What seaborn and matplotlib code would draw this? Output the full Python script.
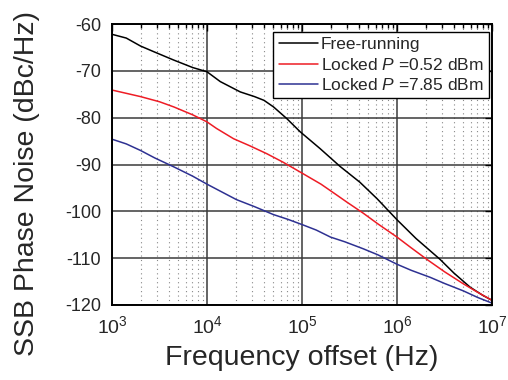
import numpy as np
import pandas as pd
import matplotlib
matplotlib.use('Agg')
import matplotlib.pyplot as plt
import seaborn as sns
from matplotlib.ticker import LogLocator, FixedLocator, NullFormatter

# valores (log10 da frequência, dBc/Hz)
free_logf = [3.0, 3.15, 3.3, 3.45, 3.65, 3.85, 4.0, 4.14, 4.35, 4.5, 4.6, 4.70, 4.84,
             4.98, 5.19, 5.4, 5.61, 5.79, 6.0, 6.2, 6.45, 6.6, 6.77, 6.9, 7.0]
free_db = [-62.2, -63.0, -64.7, -66.0, -67.7, -69.3, -70.2, -72.3, -74.5, -75.5, -76.3,
           -77.7, -80.2, -83.0, -86.6, -90.4, -93.8, -97.3, -101.8, -105.8, -110.2,
           -113.2, -116.2, -117.9, -119.0]

red_logf = [3.0, 3.15, 3.3, 3.5, 3.65, 3.85, 4.0, 4.1, 4.28, 4.45, 4.63, 4.8, 4.98,
            5.2, 5.35, 5.47, 5.645, 5.8, 6.0, 6.15, 6.31, 6.5, 6.7, 6.85, 7.0]
red_db = [-74.1, -74.8, -75.5, -76.6, -77.7, -79.4, -80.9, -82.3, -84.5, -86.0, -87.7,
          -89.5, -91.6, -94.2, -96.3, -98.0, -100.4, -102.7, -105.5, -107.8, -110.2,
          -112.9, -115.5, -117.3, -119.0]

blue_logf = [3.0, 3.15, 3.3, 3.45, 3.65, 3.85, 4.0, 4.15, 4.31, 4.5, 4.7, 4.85, 5.01,
             5.15, 5.3, 5.45, 5.645, 5.8, 5.89, 6.0, 6.15, 6.35, 6.5, 6.7, 6.85, 7.0]
blue_db = [-84.6, -85.6, -87.0, -88.6, -90.5, -92.5, -94.2, -95.8, -97.5, -99.0, -100.7,
           -101.7, -102.9, -104.0, -105.5, -106.5, -108.0, -109.3, -110.2, -111.3,
           -112.6, -114.1, -115.4, -117.0, -118.4, -119.6]

labels = ['Free-running', r'Locked $\it{P}$ =0.52 dBm', r'Locked $\it{P}$ =7.85 dBm']
colors = ['black', '#ee1c25', '#2e3192']

y_ticks = [-60, -70, -80, -90, -100, -110, -120]
x_ticks = [1e3, 1e4, 1e5, 1e6, 1e7]
x_tick_labels = [r'$10^{3}$', r'$10^{4}$', r'$10^{5}$', r'$10^{6}$', r'$10^{7}$']


def main():
    sns.set_style('white')
    plt.rcParams['font.family'] = ['Liberation Sans', 'DejaVu Sans']
    plt.rcParams['mathtext.fontset'] = 'custom'
    plt.rcParams['mathtext.rm'] = 'Liberation Sans'
    plt.rcParams['mathtext.it'] = 'Liberation Sans:italic'
    plt.rcParams['axes.unicode_minus'] = False

    frames = []
    for lab, lf, db in [(labels[0], free_logf, free_db),
                        (labels[1], red_logf, red_db),
                        (labels[2], blue_logf, blue_db)]:
        frames.append(pd.DataFrame({'freq': 10 ** np.array(lf), 'noise': db, 'curve': lab}))
    df = pd.concat(frames, ignore_index=True)

    fig = plt.figure(figsize=(5.08, 3.8), dpi=100)
    ax = fig.add_axes([0.2205, 0.1974, 0.748, 0.7394])

    sns.lineplot(data=df, x='freq', y='noise', hue='curve', hue_order=labels,
                 palette=colors, linewidth=1.1, ax=ax, sort=False)

    ax.set_xscale('log')
    ax.set_xlim(1e3, 1e7)
    ax.set_ylim(-120, -60)

    ax.xaxis.set_major_locator(FixedLocator(x_ticks))
    ax.set_xticklabels(x_tick_labels)
    ax.xaxis.set_minor_locator(LogLocator(base=10, subs=np.arange(2, 10)))
    ax.xaxis.set_minor_formatter(NullFormatter())
    ax.set_yticks(y_ticks)

    ax.grid(True, which='major', color='#3a3a3a', linewidth=1.1, linestyle='-')
    ax.grid(True, which='minor', axis='x', color='#888888', linewidth=0.8, linestyle=(0, (1, 3)))
    ax.set_axisbelow(True)

    ax.tick_params(which='both', direction='in', top=True, right=True,
                   width=1.0, color='black')
    ax.tick_params(axis='y', labelsize=13, pad=8)
    ax.tick_params(axis='x', labelsize=14, pad=7)
    ax.tick_params(which='major', length=5)
    ax.tick_params(which='minor', length=3)
    for s in ax.spines.values():
        s.set_color('black')
        s.set_linewidth(1.4)

    ax.set_xlabel('Frequency offset (Hz)', fontsize=20.5, labelpad=6)
    ax.set_ylabel('SSB Phase Noise (dBc/Hz)', fontsize=20.5)
    ax.yaxis.set_label_coords(-0.19, 0.432)

    leg = ax.legend(loc='upper right', bbox_to_anchor=(0.992, 0.9715), fontsize=12.5,
                    frameon=True, fancybox=False, borderaxespad=0, handlelength=2.25,
                    borderpad=0.3, labelspacing=0.25, handletextpad=0.2)
    leg.get_frame().set_edgecolor('black')
    leg.get_frame().set_linewidth(1.0)
    leg.get_frame().set_alpha(1)

    fig.savefig('out.png', dpi=100)


if __name__ == '__main__':
    main()
